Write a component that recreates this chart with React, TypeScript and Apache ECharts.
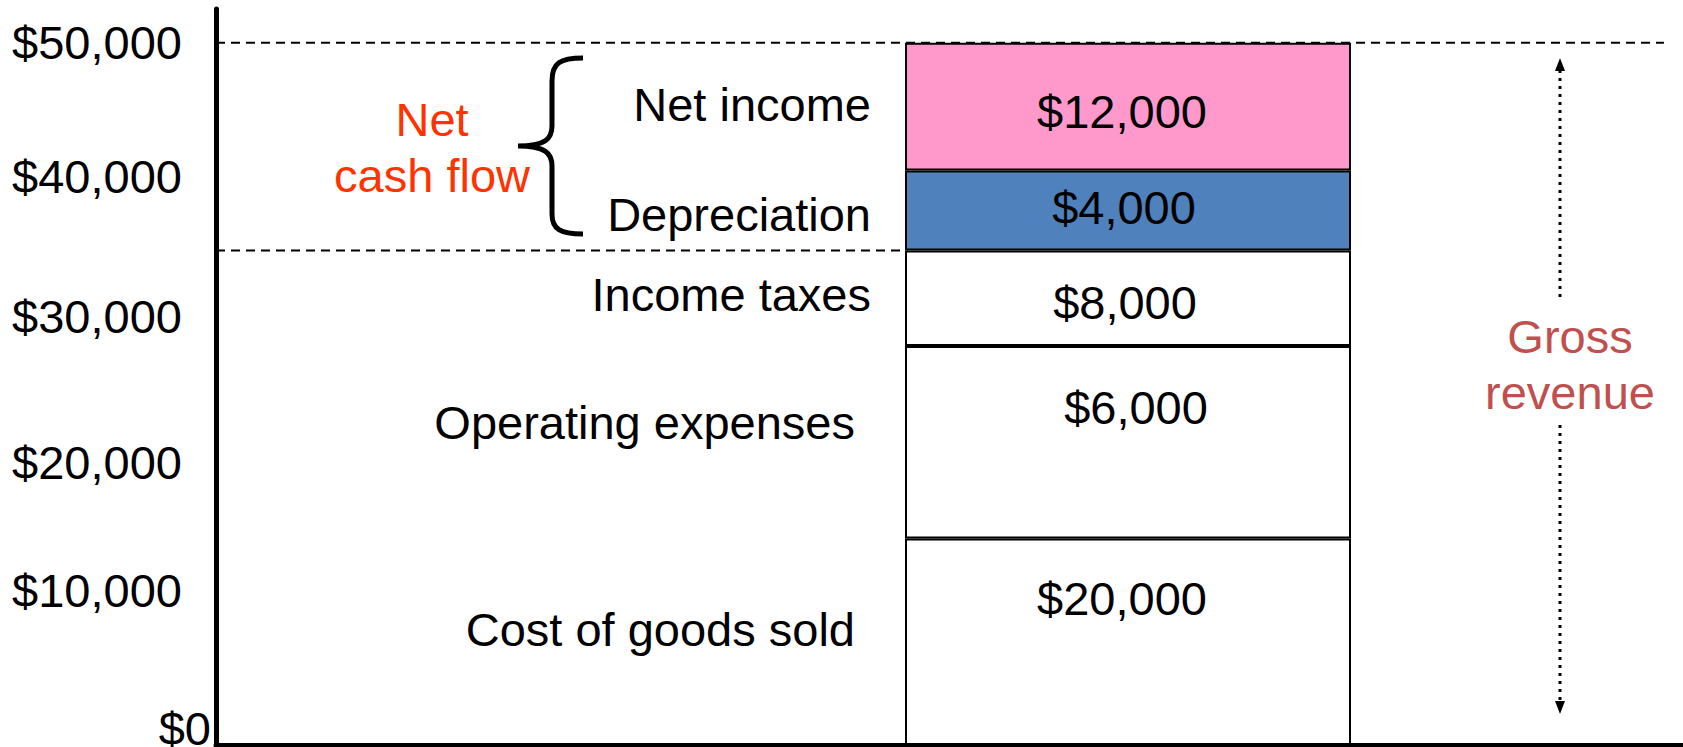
import React, { useEffect, useRef } from "react";
import * as echarts from "echarts";

// ---- data ----
const barCategory = ["Gross revenue"];
const segmentNames = ["Cost of goods sold", "Operating expenses", "Income taxes", "Depreciation", "Net income"];
const segmentHeights = [14700, 13700, 6800, 5700, 9100]; // drawn heights
const valueLabels = ["$20,000", "$6,000", "$8,000", "$4,000", "$12,000"];
const yTickValues = [0, 10000, 20000, 30000, 40000, 50000];
const netCashFlowLines = ["Net", "cash flow"];
const grossRevenueLines = ["Gross", "revenue"];

// ---- styling / layout ----
const segmentColors = ["#ffffff", "#ffffff", "#ffffff", "#4f81bd", "#ff99cc"];
const valueOffsets = [[-6, -43], [8, -35], [-3, 4], [-4, -3], [-6, 5]];
const nameOffsets = [[0, -12], [0, -20], [0, -4], [0, 4], [0, -2]];
const nameDistances = [50, 50, 34, 34, 34];
const yLabelLift = [0, 14.5, 1.5, 7.5, 7, 0]; // how far each tick label sits above its tick
const FONT = "'Liberation Sans', Arial, Helvetica, sans-serif";
const FS = 47;
const Y_MAX = 52400;
const BAR_LEFT_X = 46.9; // on the hidden 0..100 horizontal scale of the main grid
const TOP_DASH_END_X = 98.7;
const GRID_TOP = 9;
const GRID_BOTTOM = 2;

const bracePath =
  "M 65 0 C 42 0 34 5 34 23 L 34 68 C 34 81 27 88 0 88 C 27 88 34 95 34 108 L 34 156 C 34 171 42 176 65 176";

export default function App() {
  const ref = useRef<HTMLDivElement>(null);

  useEffect(() => {
    document.body.style.margin = "0";
    document.body.style.overflow = "hidden";
    try {
      echarts.graphic.registerShape("brace", echarts.graphic.extendPath(bracePath, {}) as any);
    } catch (e) {}
    const chart = echarts.init(ref.current!, null, { renderer: "svg" });

    const totalTop = segmentHeights.reduce((a, b) => a + b, 0);
    const netCashBase = segmentHeights.slice(0, 3).reduce((a, b) => a + b, 0);

    const series: any[] = [];
    // dashed guide lines in the main grid
    const dashStyle = { type: [9, 6], width: 2, color: "#000" };
    series.push({
      type: "line",
      xAxisIndex: 0,
      yAxisIndex: 0,
      showSymbol: false,
      silent: true,
      z: 1,
      lineStyle: dashStyle,
      data: [[0, totalTop], [TOP_DASH_END_X, totalTop]],
    });
    series.push({
      type: "line",
      xAxisIndex: 0,
      yAxisIndex: 0,
      showSymbol: false,
      silent: true,
      z: 1,
      lineStyle: dashStyle,
      data: [[0, netCashBase], [BAR_LEFT_X, netCashBase]],
    });

    segmentHeights.forEach((h, i) => {
      series.push({
        type: "bar",
        name: segmentNames[i],
        xAxisIndex: 1,
        yAxisIndex: 1,
        stack: "values",
        barWidth: "100%",
        z: 3,
        data: [h],
        itemStyle: { color: segmentColors[i], borderColor: "#000", borderWidth: 2 },
        label: {
          show: true,
          position: "inside",
          formatter: valueLabels[i],
          offset: valueOffsets[i],
          fontSize: FS,
          fontFamily: FONT,
          color: "#000",
          textBorderWidth: 0,
        },
      });
    });
    segmentHeights.forEach((h, i) => {
      series.push({
        type: "bar",
        name: segmentNames[i] + " label",
        xAxisIndex: 2,
        yAxisIndex: 2,
        stack: "names",
        barWidth: "100%",
        silent: true,
        z: 1,
        data: [h],
        itemStyle: { color: "rgba(0,0,0,0)" },
        label: {
          show: true,
          position: "left",
          distance: nameDistances[i],
          offset: nameOffsets[i],
          formatter: segmentNames[i],
          fontSize: FS,
          fontFamily: FONT,
          color: "#000",
          textBorderWidth: 0,
        },
      });
    });

    const arrowX = 1560;
    const graphic: any[] = [
      {
        type: "brace",
        x: 518,
        y: 58,
        style: { fill: "none", stroke: "#000", lineWidth: 5 },
      },
      ...netCashFlowLines.map((t, k) => ({
        type: "text",
        x: 432,
        y: 119 + k * 56,
        style: { text: t, fill: "#ff3300", fontSize: FS, fontFamily: FONT, align: "center", verticalAlign: "middle" },
      })),
      ...grossRevenueLines.map((t, k) => ({
        type: "text",
        x: 1570,
        y: 336 + k * 56,
        style: { text: t, fill: "#c0504d", fontSize: FS, fontFamily: FONT, align: "center", verticalAlign: "middle" },
      })),
      {
        type: "line",
        shape: { x1: arrowX, y1: 70, x2: arrowX, y2: 298 },
        style: { stroke: "#000", lineWidth: 3, lineDash: [3, 5] },
      },
      {
        type: "line",
        shape: { x1: arrowX, y1: 425, x2: arrowX, y2: 702 },
        style: { stroke: "#000", lineWidth: 3, lineDash: [3, 5] },
      },
      {
        type: "polygon",
        shape: { points: [[arrowX, 58], [arrowX - 5, 71], [arrowX + 5, 71]] },
        style: { fill: "#000" },
      },
      {
        type: "polygon",
        shape: { points: [[arrowX, 714], [arrowX - 5, 701], [arrowX + 5, 701]] },
        style: { fill: "#000" },
      },
    ];

    const hiddenCat = (gridIndex: number) => ({
      type: "category",
      gridIndex,
      data: barCategory,
      show: false,
    });
    const hiddenVal = (gridIndex: number) => ({
      type: "value",
      gridIndex,
      min: 0,
      max: Y_MAX,
      show: false,
      splitLine: { show: false },
    });

    const rich: any = {
      z: { fontSize: FS, fontFamily: FONT, color: "#000", lineHeight: 34 },
    };
    yTickValues.forEach((v, k) => {
      if (v === 0) return;
      rich["t" + k] = {
        fontSize: FS,
        fontFamily: FONT,
        color: "#000",
        padding: [0, 29, yLabelLift[k] * 2, 0],
      };
    });

    const gridBase = { top: GRID_TOP, bottom: GRID_BOTTOM, containLabel: false, outerBoundsMode: "none" };

    chart.setOption({
      animation: false,
      backgroundColor: "#fff",
      grid: [
        { ...gridBase, left: 216, right: 0 },
        { ...gridBase, left: 905, right: 332 },
        { ...gridBase, left: 905, right: 332 },
      ],
      xAxis: [
        {
          type: "value",
          gridIndex: 0,
          min: 0,
          max: 100,
          z: 10,
          axisLine: { show: true, onZero: false, lineStyle: { color: "#000", width: 5 } },
          axisTick: { show: false },
          axisLabel: { show: false },
          splitLine: { show: false },
        },
        hiddenCat(1),
        hiddenCat(2),
      ],
      yAxis: [
        {
          type: "value",
          gridIndex: 0,
          min: 0,
          max: Y_MAX,
          interval: 10000,
          z: 10,
          axisLine: { show: true, lineStyle: { color: "#000", width: 5 } },
          axisTick: { show: false },
          splitLine: { show: false },
          axisLabel: {
            margin: 5,
            fontSize: FS,
            fontFamily: FONT,
            color: "#000",
            showMaxLabel: false,
            verticalAlignMinLabel: "bottom",
            formatter: (v: number) => {
              const k = yTickValues.indexOf(v);
              if (k < 0) return "";
              const txt = "$" + v.toLocaleString("en-US");
              return v === 0 ? "{z|" + txt + "}" : "{t" + k + "|" + txt + "}";
            },
            rich,
          },
        },
        hiddenVal(1),
        hiddenVal(2),
      ],
      series,
      graphic,
    });

    return () => chart.dispose();
  }, []);

  return <div ref={ref} style={{ width: 1683, height: 747 }} />;
}
